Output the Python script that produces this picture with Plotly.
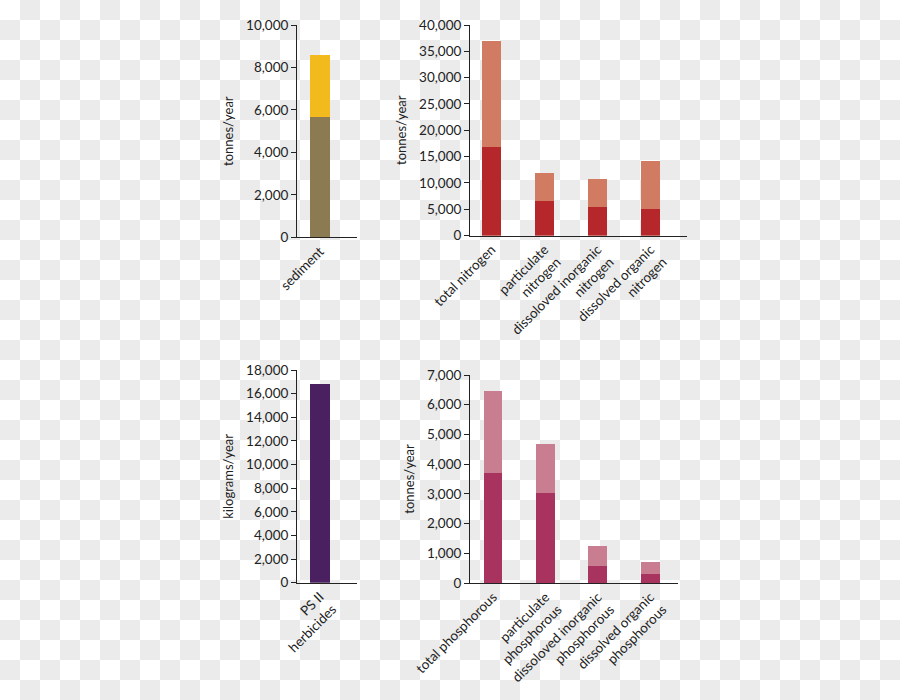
import base64
import plotly.graph_objects as go

# ---------------- data ----------------
sed_cats = ["sediment"]
sed_lower = [5650]
sed_total = [8580]

n_cats = ["total nitrogen", "particulate<br>nitrogen",
          "dissoloved inorganic<br>nitrogen", "dissolved organic<br>nitrogen"]
n_lower = [16800, 6500, 5350, 5050]
n_total = [36950, 11950, 10650, 14250]

herb_cats = ["PS II<br>herbicides"]
herb_vals = [16800]

p_cats = ["total phosphorous", "particulate<br>phosphorous",
          "dissoloved inorganic<br>phosphorous", "dissolved organic<br>phosphorous"]
p_lower = [3700, 3020, 560, 290]
p_total = [6470, 4680, 1250, 700]

sed_ticks = [0, 2000, 4000, 6000, 8000, 10000]
n_ticks = [0, 5000, 10000, 15000, 20000, 25000, 30000, 35000, 40000]
herb_ticks = list(range(0, 18001, 2000))
p_ticks = list(range(0, 7001, 1000))

# ---------------- styling ----------------
FONT = "Lato"
AX = "#222222"
BW = 0.36

fig = go.Figure()

def add_pair(cats, lower, total, xa, ya, c_low, c_up):
    fig.add_trace(go.Bar(x=cats, y=total, marker=dict(color=c_up, line=dict(width=0)),
                         width=BW, xaxis=xa, yaxis=ya, opacity=1, showlegend=False))
    if lower is not None:
        fig.add_trace(go.Bar(x=cats, y=lower, marker=dict(color=c_low, line=dict(width=0)),
                             width=BW, xaxis=xa, yaxis=ya, opacity=1, showlegend=False))

add_pair(sed_cats, sed_lower, sed_total, "x", "y", "#8c7a52", "#f2ba1d")
add_pair(n_cats, n_lower, n_total, "x2", "y2", "#b5272a", "#d17b62")
add_pair(herb_cats, None, herb_vals, "x3", "y3", None, "#4a2061")
add_pair(p_cats, p_lower, p_total, "x4", "y4", "#a8335f", "#c97d90")

def xax(domain, rng, anchor):
    return dict(domain=domain, range=rng, anchor=anchor, type="category",
                automargin=False,
                showline=True, linecolor=AX, linewidth=1, ticks="",
                tickangle=-45, showgrid=False, zeroline=False,
                tickfont=dict(family=FONT, size=13.5, color="#222"))

def yax(domain, rng, tvals, title, anchor):
    return dict(domain=domain, range=rng, anchor=anchor, automargin=False,
                tickvals=tvals, ticktext=[f"{v:,}" for v in tvals],
                showline=True, linecolor=AX, linewidth=1, ticks="outside",
                ticklen=5, tickcolor=AX, showgrid=False, zeroline=False,
                tickfont=dict(family=FONT, size=13.5, color="#222"),
                title=dict(text=title, standoff=9,
                           font=dict(family=FONT, size=13, color="#222")))

fig.update_layout(
    xaxis=xax([297/900, 357/900], [-0.434, 0.698], "y"),
    yaxis=yax([1-237.3/700, 1-25/700], [0, 10000], sed_ticks, "tonnes/year", "x"),
    xaxis2=xax([470/900, 687/900], [-0.406, 3.69], "y2"),
    yaxis2=yax([1-235.5/700, 1-25/700], [0, 40000], n_ticks, "tonnes/year", "x2"),
    xaxis3=xax([297/900, 357/900], [-0.434, 0.698], "y3"),
    yaxis3=yax([1-582.7/700, 1-370/700], [0, 18000], herb_ticks, "kilograms/year", "x3"),
    xaxis4=xax([470/900, 678/900], [-0.44, 3.53], "y4"),
    yaxis4=yax([1-583/700, 1-375/700], [0, 7000], p_ticks, "tonnes/year", "x4"),
)

# checkerboard backdrop (as seen in the reference image)
svg = ('<svg xmlns="http://www.w3.org/2000/svg" width="900" height="700">'
       '<defs><pattern id="p" width="40" height="40" patternUnits="userSpaceOnUse">'
       '<rect x="0" y="0" width="40" height="40" fill="#ffffff"/>'
       '<rect x="20" y="0" width="20" height="20" fill="#ebebeb"/>'
       '<rect x="0" y="20" width="20" height="20" fill="#ebebeb"/>'
       '</pattern></defs><rect width="900" height="700" fill="url(#p)"/></svg>')
src = "data:image/svg+xml;base64," + base64.b64encode(svg.encode()).decode()

fig.update_layout(
    width=900, height=700, margin=dict(l=0, r=0, t=0, b=0, autoexpand=False),
    barmode="overlay", bargap=0,
    paper_bgcolor="white", plot_bgcolor="rgba(0,0,0,0)",
    font=dict(family=FONT, color="#222"),
    images=[dict(source=src, xref="paper", yref="paper", x=0, y=1,
                 sizex=1, sizey=1, xanchor="left", yanchor="top",
                 sizing="stretch", layer="below")],
)

fig.write_html("out.html", config={"displayModeBar": False})
